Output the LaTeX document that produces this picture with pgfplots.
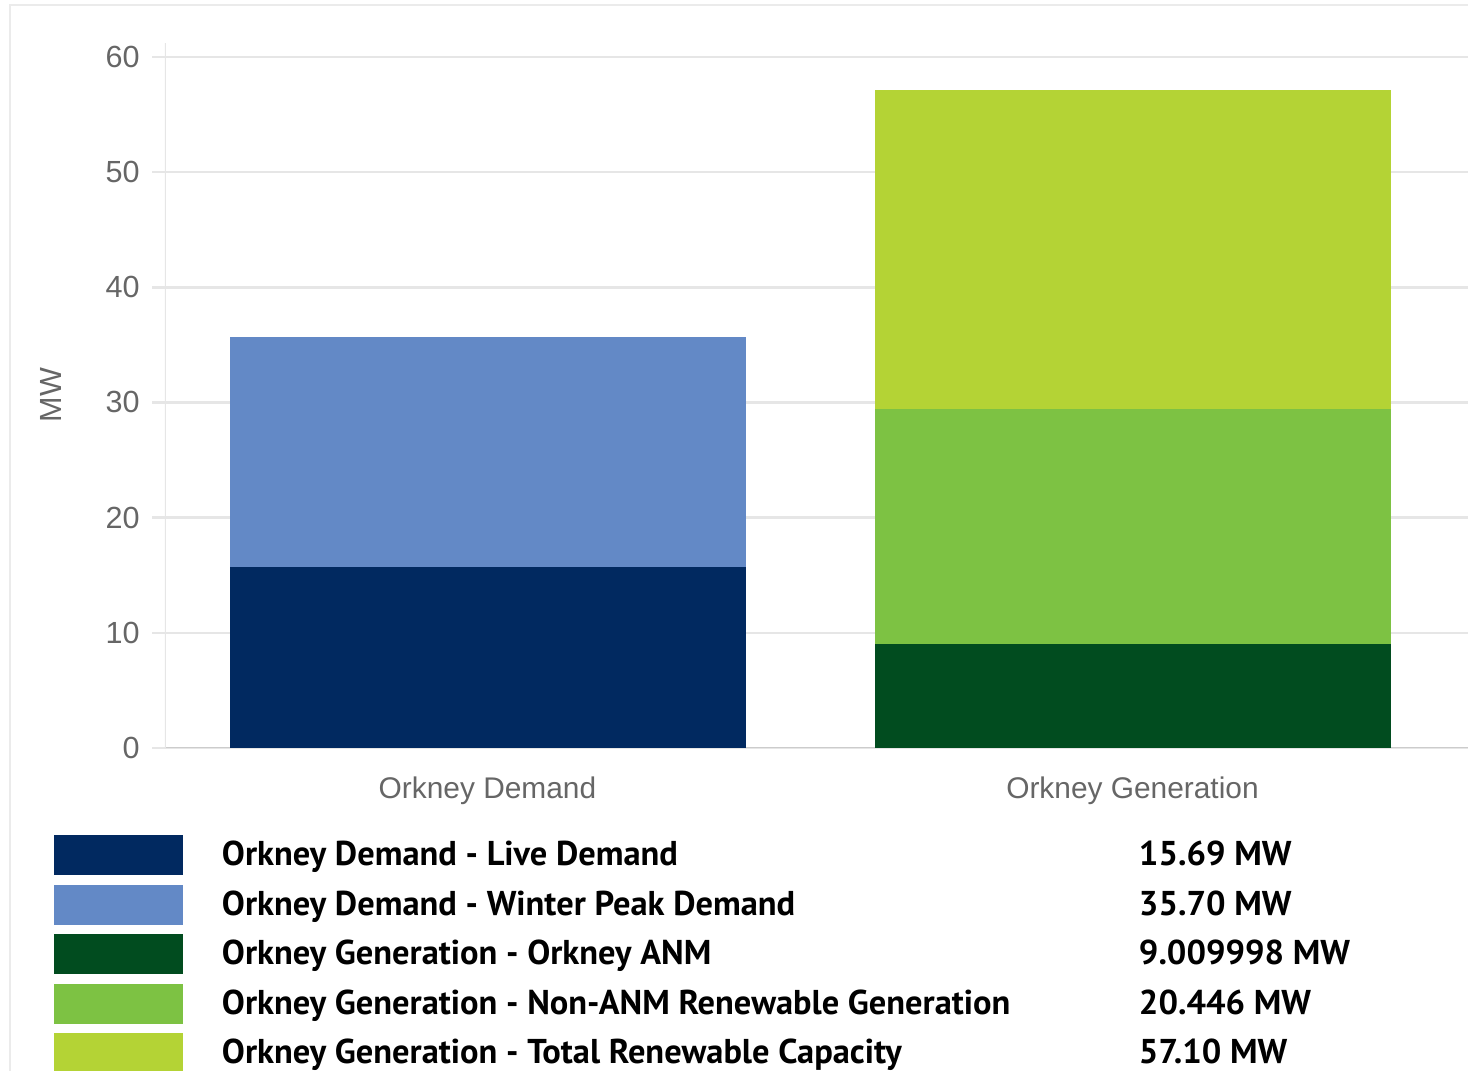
\documentclass[border=0pt]{standalone}
\usepackage{fontspec}
\setmainfont{Liberation Sans}
\newfontfamily\legfont{PT Sans}
\usepackage{pgfplots}
\pgfplotsset{compat=1.18}

\definecolor{livedem}{HTML}{012960}
\definecolor{winterdem}{HTML}{6389C6}
\definecolor{anm}{HTML}{014C1F}
\definecolor{nonanm}{HTML}{7DC243}
\definecolor{totalcap}{HTML}{B4D335}
\definecolor{gridcol}{HTML}{E6E6E6}
\definecolor{axcol}{HTML}{CCCCCC}
\definecolor{labgray}{HTML}{666666}
\definecolor{framecol}{HTML}{EBEBEB}

\begin{document}
\begin{tikzpicture}
\path[use as bounding box, clip] (0,0) rectangle (14.68,10.71);
\draw[framecol, line width=0.8pt] (0.10,-1) -- (0.10,10.66) -- (16,10.66);
\node[rotate=90, text=labgray, font=\fontsize{8.7}{10}\selectfont] at (0.51,6.76) {MW};
\begin{axis}[
    at={(1.65cm,3.23cm)}, anchor=south west,
    x=6.45cm, y=0.11517cm,
    xmin=-0.5, xmax=1.55, ymin=0, ymax=61.2,
    enlargelimits=false,
    ybar stacked, bar width=5.16cm,
    legend image code/.code={\path[#1,/tikz/.cd,draw=none] (0cm,-0.19cm) rectangle (1.29cm,0.21cm);},
    axis line style={draw=none},
    ymajorgrids, grid style={gridcol, line width=0.7pt},
    ytick={0,10,...,60}, ytick pos=left,
    tick align=outside, major tick length=0.13cm,
    ytick style={draw=gridcol, line width=0.7pt},
    xtick={0,1}, xticklabels={Orkney Demand, Orkney Generation},
    xtick style={draw=none},
    tick label style={text=labgray, font=\fontsize{8.7}{10}\selectfont},
    xticklabel style={font=\fontsize{8.5}{10}\selectfont, yshift=-0.03cm},
    /pgf/number format/assume math mode=true,
    legend style={at={(-0.08395,-0.12344)}, anchor=north west,
        draw=none, fill=none, inner sep=0pt, outer sep=0pt,
        row sep=0.095cm, column sep=0.39cm,
        font=\legfont\bfseries\fontsize{9.8}{11}\selectfont, text=black,
        nodes={inner sep=0pt}},
    legend cell align=left,
]
\addplot[fill=livedem, draw=none] coordinates {(0,15.69) (1,0)};
\addlegendentry{\makebox[9.17cm][l]{Orkney Demand - Live Demand}15.69 MW}
\addplot[fill=winterdem, draw=none] coordinates {(0,20.01) (1,0)};
\addlegendentry{\makebox[9.17cm][l]{Orkney Demand - Winter Peak Demand}35.70 MW}
\addplot[fill=anm, draw=none] coordinates {(0,0) (1,9.009998)};
\addlegendentry{\makebox[9.17cm][l]{Orkney Generation - Orkney ANM}9.009998 MW}
\addplot[fill=nonanm, draw=none] coordinates {(0,0) (1,20.446)};
\addlegendentry{\makebox[9.17cm][l]{Orkney Generation - Non-ANM Renewable Generation}20.446 MW}
\addplot[fill=totalcap, draw=none] coordinates {(0,0) (1,27.644)};
\addlegendentry{\makebox[9.17cm][l]{Orkney Generation - Total Renewable Capacity}57.10 MW}
\draw[gridcol, line width=0.7pt] (rel axis cs:0,0) -- (rel axis cs:0,1);
\draw[axcol, line width=0.8pt] (rel axis cs:0,0) -- (rel axis cs:1,0);
\end{axis}
\end{tikzpicture}
\end{document}
